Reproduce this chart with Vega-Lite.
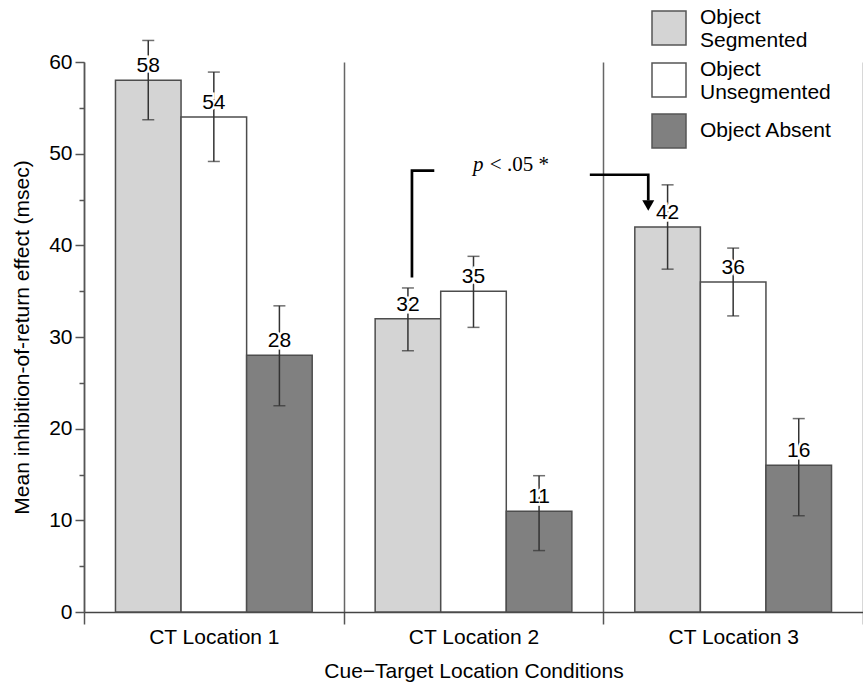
{
  "$schema": "https://vega.github.io/schema/vega-lite/v6.json",
  "width": 779,
  "height": 550,
  "autosize": {"type": "none"},
  "padding": {"left": 84, "top": 62, "right": 0, "bottom": 71},
  "config": {
    "view": {"stroke": null},
    "font": "Liberation Sans",
    "axis": {"labelColor": "#000", "titleColor": "#000", "titleFontWeight": "normal", "labelFont": "Liberation Sans", "titleFont": "Liberation Sans"},
    "axisY": {
      "titleFontSize": 21, "titlePadding": 16,
      "labelFontSize": 21, "labelPadding": 3,
      "values": [0, 2, 4, 6, 8, 10, 12, 14, 16, 18, 20, 22, 24, 26, 28, 30, 32, 34, 36, 38, 40, 42, 44, 46, 48, 50, 52, 54, 56, 58, 60],
      "labelExpr": "datum.value % 10 == 0 ? datum.label : ''",
      "labelOverlap": false,
      "tickSize": {"condition": {"test": "datum.value % 10 == 0", "value": 9}, "value": 5},
      "tickColor": "#555", "tickWidth": 1.5,
      "domainColor": "#555", "domainWidth": 1.5, "grid": false
    },
    "legend": {"labelColor": "#000", "labelFont": "Liberation Sans"}
  },
  "datasets": {
    "bars": [
      {"location": "CT Location 1", "condition": "Object Segmented", "value": 58, "lower": 53.7, "upper": 62.35},
      {"location": "CT Location 1", "condition": "Object Unsegmented", "value": 54, "lower": 49.15, "upper": 58.9},
      {"location": "CT Location 1", "condition": "Object Absent", "value": 28, "lower": 22.5, "upper": 33.4},
      {"location": "CT Location 2", "condition": "Object Segmented", "value": 32, "lower": 28.5, "upper": 35.35},
      {"location": "CT Location 2", "condition": "Object Unsegmented", "value": 35, "lower": 31.05, "upper": 38.8},
      {"location": "CT Location 2", "condition": "Object Absent", "value": 11, "lower": 6.7, "upper": 14.87},
      {"location": "CT Location 3", "condition": "Object Segmented", "value": 42, "lower": 37.4, "upper": 46.6},
      {"location": "CT Location 3", "condition": "Object Unsegmented", "value": 36, "lower": 32.3, "upper": 39.7},
      {"location": "CT Location 3", "condition": "Object Absent", "value": 16, "lower": 10.5, "upper": 21.1}
    ],
    "bracket": [
      {"seg": "L", "ord": 1, "pos": 1.263, "y": 36.5},
      {"seg": "L", "ord": 2, "pos": 1.263, "y": 48.14},
      {"seg": "L", "ord": 3, "pos": 1.349, "y": 48.14},
      {"seg": "R", "ord": 1, "pos": 1.948, "y": 47.7},
      {"seg": "R", "ord": 2, "pos": 2.173, "y": 47.7},
      {"seg": "R", "ord": 3, "pos": 2.173, "y": 44.9}
    ],
    "arrow": [{"pos": 2.173, "y": 44.35}],
    "pitalic": [{"pos": 1.498, "y": 48.06, "t": "p"}],
    "prest": [{"pos": 1.563, "y": 48.06, "t": "< .05 *"}]
  },
  "layer": [
    {
      "data": {"name": "bars"},
      "encoding": {
        "x": {
          "field": "location", "type": "nominal",
          "scale": {"paddingInner": 0, "paddingOuter": 0},
          "axis": {
            "title": "Cue\u2212Target Location Conditions",
            "titleFontSize": 21, "titlePadding": 13,
            "labelFontSize": 21, "labelPadding": 2, "labelAngle": 0,
            "tickBand": "extent", "tickSize": 12, "tickColor": "#555", "tickWidth": 1.5,
            "grid": true, "gridColor": "#666", "gridWidth": 1.5,
            "domainColor": "#444", "domainWidth": 1.5
          }
        },
        "xOffset": {
          "field": "condition", "type": "nominal",
          "scale": {"domain": ["Object Segmented", "Object Unsegmented", "Object Absent"], "paddingInner": 0, "paddingOuter": 0.48}
        }
      },
      "layer": [
        {
          "mark": {"type": "bar", "stroke": "#4d4d4d", "strokeWidth": 1.5},
          "encoding": {
            "y": {
              "field": "value", "type": "quantitative",
              "title": "Mean inhibition-of-return effect (msec)",
              "scale": {"domain": [0, 60], "nice": false}
            },
            "fill": {
              "field": "condition", "type": "nominal",
              "scale": {"domain": ["Object Segmented", "Object Unsegmented", "Object Absent"], "range": ["#d4d4d4", "#ffffff", "#808080"]},
              "legend": {
                "orient": "none", "legendX": 567, "legendY": -52,
                "title": null, "symbolType": "square", "symbolSize": 1156,
                "symbolStrokeColor": "#555", "symbolStrokeWidth": 1.5, "symbolOpacity": 1,
                "labelFontSize": 21, "labelOffset": 13, "rowPadding": 8, "labelLimit": 300,
                "gridAlign": "none",
                "labelExpr": "datum.label == 'Object Absent' ? datum.label : split(datum.label, ' ')",
                "encoding": {
                  "labels": {
                    "dy": {"condition": {"test": "datum.value != 'Object Absent'", "value": -10}, "value": 0}
                  }
                }
              }
            }
          }
        },
        {
          "mark": {"type": "rule", "color": "#333", "strokeWidth": 1.5},
          "encoding": {
            "y": {"field": "lower", "type": "quantitative", "title": "Mean inhibition-of-return effect (msec)"},
            "y2": {"field": "upper"}
          }
        },
        {
          "mark": {"type": "text", "fontSize": 21, "dy": -8, "baseline": "alphabetic", "fill": "white", "stroke": "white", "strokeWidth": 5},
          "encoding": {
            "y": {"field": "value", "type": "quantitative", "title": "Mean inhibition-of-return effect (msec)"},
            "text": {"field": "value", "type": "quantitative"}
          }
        },
        {
          "mark": {"type": "text", "fontSize": 21, "dy": -8, "baseline": "alphabetic", "color": "black"},
          "encoding": {
            "y": {"field": "value", "type": "quantitative", "title": "Mean inhibition-of-return effect (msec)"},
            "text": {"field": "value", "type": "quantitative"}
          }
        },
        {
          "mark": {"type": "tick", "color": "#333", "size": 12, "thickness": 1.5},
          "encoding": {"y": {"field": "lower", "type": "quantitative", "title": "Mean inhibition-of-return effect (msec)"}}
        },
        {
          "mark": {"type": "tick", "color": "#333", "size": 12, "thickness": 1.5},
          "encoding": {"y": {"field": "upper", "type": "quantitative", "title": "Mean inhibition-of-return effect (msec)"}}
        }
      ]
    },
    {
      "encoding": {
        "x": {"field": "pos", "type": "quantitative", "scale": {"domain": [0, 3], "nice": false, "zero": false}, "axis": null}
      },
      "layer": [
        {
          "data": {"name": "bracket"},
          "mark": {"type": "line", "color": "black", "strokeWidth": 2.7, "strokeJoin": "miter"},
          "encoding": {
            "y": {"field": "y", "type": "quantitative", "title": "Mean inhibition-of-return effect (msec)", "scale": {"domain": [0, 60], "nice": false}},
            "order": {"field": "ord", "type": "quantitative"},
            "detail": {"field": "seg", "type": "nominal"}
          }
        },
        {
          "data": {"name": "arrow"},
          "mark": {"type": "point", "shape": "triangle-down", "size": 144, "filled": true, "color": "black", "opacity": 1},
          "encoding": {"y": {"field": "y", "type": "quantitative", "title": "Mean inhibition-of-return effect (msec)"}}
        },
        {
          "data": {"name": "pitalic"},
          "mark": {"type": "text", "font": "Liberation Serif", "fontStyle": "italic", "fontSize": 21, "align": "left", "baseline": "alphabetic", "color": "black"},
          "encoding": {"y": {"field": "y", "type": "quantitative", "title": "Mean inhibition-of-return effect (msec)"}, "text": {"field": "t"}}
        },
        {
          "data": {"name": "prest"},
          "mark": {"type": "text", "font": "Liberation Serif", "fontSize": 21, "align": "left", "baseline": "alphabetic", "color": "black"},
          "encoding": {"y": {"field": "y", "type": "quantitative", "title": "Mean inhibition-of-return effect (msec)"}, "text": {"field": "t"}}
        }
      ]
    }
  ],
  "resolve": {"scale": {"x": "independent"}}
}
